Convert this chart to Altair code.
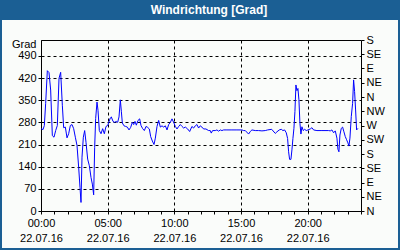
import altair as alt
import pandas as pd

# time of day in hours (22.07.16) and wind direction in degrees
hours = [0.0, 0.15, 0.25, 0.35, 0.475, 0.6, 0.725, 0.85, 0.975, 1.1, 1.225, 1.35, 1.475, 1.6, 1.7,
         1.825, 1.95, 2.075, 2.2, 2.325, 2.45, 2.575, 2.7, 2.825, 2.925, 3.0, 3.075, 3.175, 3.275,
         3.375, 3.5, 3.625, 3.75, 3.85, 3.95, 4.025, 4.1, 4.2, 4.275, 4.375, 4.5, 4.625, 4.75, 4.875,
         5.0, 5.2, 5.275, 5.4, 5.525, 5.65, 5.75, 5.85, 5.95, 6.025, 6.1, 6.225, 6.35, 6.475, 6.6,
         6.725, 6.85, 6.95, 7.05, 7.15, 7.275, 7.4, 7.5, 7.625, 7.75, 7.875, 8.0, 8.125, 8.225, 8.35,
         8.475, 8.575, 8.7, 8.825, 8.95, 9.075, 9.2, 9.325, 9.45, 9.575, 9.7, 9.825, 9.95, 10.075,
         10.2, 10.325, 10.45, 10.575, 10.7, 10.825, 11.0, 11.15, 11.32, 11.445, 11.57, 11.695, 11.82,
         11.945, 12.07, 12.195, 12.37, 12.57, 12.695, 12.77, 12.87, 13.07, 13.195, 13.32, 13.445,
         13.57, 13.695, 13.945, 14.32, 14.695, 15.07, 15.195, 15.32, 15.57, 15.695, 15.82, 16.07,
         16.32, 16.57, 16.82, 17.0, 17.3, 17.57, 17.695, 17.87, 18.02, 18.145, 18.27, 18.395, 18.495,
         18.57, 18.645, 18.745, 18.82, 18.895, 18.97, 19.045, 19.12, 19.195, 19.27, 19.345, 19.42,
         19.495, 19.57, 19.67, 19.77, 19.895, 20.02, 20.195, 20.32, 20.445, 20.695, 21.07, 21.57,
         21.695, 21.82, 21.945, 22.07, 22.195, 22.27, 22.345, 22.42, 22.52, 22.62, 22.72, 22.82,
         22.92, 23.02, 23.095, 23.17, 23.27, 23.37, 23.445, 23.52, 23.595, 23.67, 23.77]
degrees = [260, 257, 270, 340, 443, 437, 382, 238, 233, 254, 270, 419, 438, 334, 263,
           265, 231, 244, 270, 273, 260, 233, 207, 138, 74, 27, 170, 233, 254,
           217, 164, 143, 106, 85, 51, 201, 292, 344, 318, 254, 244, 260, 244, 267,
           270, 294, 297, 283, 280, 283, 280, 297, 351, 315, 278, 269, 267, 265, 256,
           264, 280, 273, 283, 271, 286, 291, 270, 260, 254, 267, 264, 259, 235, 221,
           210, 230, 267, 286, 265, 269, 265, 269, 256, 273, 280, 291, 280, 267,
           259, 267, 273, 267, 262, 265, 259, 251, 267, 262, 269, 273, 262,
           269, 265, 259, 259, 254, 254, 246, 254, 254, 256, 252, 256,
           254, 256, 256, 256, 256, 256, 254, 254, 243, 251, 256, 254,
           254, 253, 254, 256, 258, 245, 250, 256, 258, 254, 256, 247, 229,
           187, 163, 163, 193, 229, 261, 314, 398, 380, 387, 351, 277,
           243, 266, 254, 258, 254, 256, 259, 263, 256, 254, 254, 254,
           253, 256, 247, 253, 230, 195, 187, 240, 261, 265, 250, 235,
           225, 215, 205, 230, 298, 340, 414, 377, 319, 256, 261]

title_text = "Windrichtung [Grad]"
left_ticks = [0, 70, 140, 210, 280, 350, 420, 490]
right_ticks = [0, 45, 90, 135, 180, 225, 270, 315, 360, 405, 450, 495, 540]
compass = ["N", "NE", "E", "SE", "S", "SW", "W", "NW"]
date_label = "22.07.16"
hour_ticks = list(range(0, 25))

FONT = "Liberation Sans"
BLUE = "#1b5f94"

df = pd.DataFrame({"t": hours, "v": degrees})


def x_enc():
    return alt.X(
        "t:Q",
        scale=alt.Scale(domain=[0, 24], nice=False, zero=False),
        axis=alt.Axis(
            title=None,
            values=hour_ticks,
            labelExpr="datum.value % 5 === 0 ? [(datum.value < 10 ? '0' : '') + datum.value + ':00', '"
            + date_label + "'] : ''",
            labelLineHeight=15,
            labelFont=FONT,
            labelFontSize=11,
            labelColor="black",
            labelPadding=3,
            labelFlush=False,
            labelOverlap=False,
            tickSize=3,
            tickColor="black",
            domain=False,
            grid=True,
            gridColor="black",
            gridDash=[3, 3],
            gridOpacity={"condition": {"test": "datum.value % 5 === 0", "value": 1}, "value": 0},
        ),
    )


line = alt.Chart(df).mark_line(color="#0000ff", strokeWidth=1, interpolate="linear").encode(
    x=x_enc(),
    y=alt.Y(
        "v:Q",
        scale=alt.Scale(domain=[0, 540], nice=False),
        axis=alt.Axis(
            title="Grad",
            titleAngle=0,
            titleAlign="right",
            titleBaseline="middle",
            titleX=-5,
            titleY=4,
            titleFont=FONT,
            titleFontSize=11,
            titleFontWeight="normal",
            titleColor="black",
            values=left_ticks,
            labelFont=FONT,
            labelFontSize=11,
            labelColor="black",
            labelPadding=2,
            tickSize=3,
            tickColor="black",
            domain=False,
            grid=True,
            gridColor="black",
            gridDash=[3, 3],
        ),
    ),
)

compass_js = "[" + ",".join("'" + c + "'" for c in compass) + "]"
right_axis = alt.Chart(df).mark_line(strokeOpacity=0).encode(
    x=x_enc(),
    y=alt.Y(
        "v:Q",
        scale=alt.Scale(domain=[0, 540], nice=False),
        axis=alt.Axis(
            orient="right",
            title=None,
            values=right_ticks,
            labelExpr=compass_js + "[round(datum.value / 45) % 8]",
            labelFont=FONT,
            labelFontSize=11,
            labelColor="black",
            labelPadding=2,
            labelFlush=False,
            labelOverlap=False,
            tickSize=3,
            tickColor="black",
            domain=False,
            grid=False,
        ),
    ),
)

one = pd.DataFrame({"label": [title_text]})
bar = alt.Chart(one).mark_rect(color=BLUE).encode(
    x=alt.value(-41), x2=alt.value(359), y=alt.value(-40), y2=alt.value(-20)
)
frame = alt.Chart(one).mark_rect(fill=None, stroke=BLUE, strokeWidth=2).encode(
    x=alt.value(-40), x2=alt.value(358), y=alt.value(-30), y2=alt.value(209)
)
title = alt.Chart(one).mark_text(
    color="white", font=FONT, fontSize=12, fontWeight="bold", align="center", baseline="middle"
).encode(x=alt.value(168), y=alt.value(-30), text="label:N")

chart = (
    alt.layer(line, right_axis, frame, bar, title)
    .resolve_scale(y="independent")
    .properties(
        width=320,
        height=171,
        background="#fafcfa",
        padding={"left": 41, "top": 40, "right": 39, "bottom": 39},
        autosize=alt.AutoSizeParams(type="none"),
    )
    .configure_view(stroke="black", strokeWidth=1, fill="#fafcfa")
)

chart.save("out.html", embed_options={"renderer": "svg", "actions": False})
